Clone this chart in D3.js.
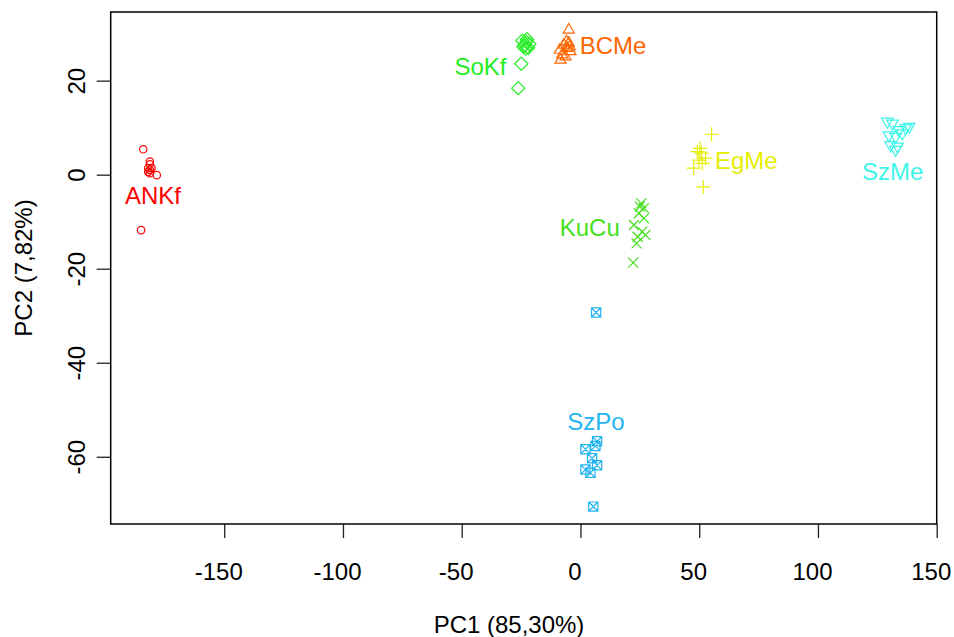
<!DOCTYPE html>
<html>
<head>
<meta charset="utf-8">
<script src="https://cdn.jsdelivr.net/npm/d3@7"></script>
<style>
  body { margin: 0; background: #fff; }
  text { font-family: "Liberation Sans", Arial, sans-serif; }
</style>
</head>
<body>
<div id="chart"></div>
<script>
// PCA scores, one [PC1, PC2] list per group
const groups = ["ANKf", "SoKf", "BCMe", "KuCu", "EgMe", "SzMe", "SzPo"];

const ANKf = [[-184.1, 5.4], [-181.3, 2.8], [-181.3, 2.2], [-182.0, 1.4], [-181.3, 1.0],
  [-180.6, 1.4], [-182.0, 0.6], [-178.4, -0.1], [-181.3, 0.3], [-185.0, -11.8]];
const SoKf = [[-24.5, 28.5], [-23.5, 27.5], [-22.5, 28.8], [-22.0, 27.0], [-23.0, 26.8],
  [-21.5, 27.8], [-24.0, 27.2], [-22.8, 28.2], [-24.9, 23.6], [-26.2, 18.4]];
const BCMe = [[-4.9, 30.8], [-5.9, 28.3], [-7.0, 27.6], [-4.5, 27.2], [-8.7, 26.5],
  [-5.6, 26.9], [-7.7, 25.5], [-4.2, 26.2], [-8.4, 24.4], [-6.3, 25.1], [-4.9, 28.0]];
const KuCu = [[25.6, -6.1], [26.7, -7.1], [24.6, -8.2], [26.7, -9.3], [22.5, -10.7],
  [26.0, -12.1], [27.4, -12.8], [24.1, -13.2], [23.6, -14.6], [22.2, -18.7], [25.0, -6.8]];
const EgMe = [[55.2, 8.6], [50.3, 5.6], [50.9, 4.6], [52.7, 3.5], [49.9, 3.1],
  [51.3, 2.4], [47.7, 1.4], [51.7, -2.6], [49.2, 4.9]];
const SzMe = [[129.2, 11.3], [131.4, 10.9], [137.0, 9.9], [138.4, 10.2], [134.1, 9.5],
  [129.9, 8.4], [132.7, 8.1], [135.5, 8.8], [130.6, 6.3], [133.5, 6.0], [132.7, 5.3]];
const SzPo = [[6.6, -29.3], [7.0, -56.7], [6.3, -57.7], [2.1, -58.4], [4.9, -60.3],
  [7.0, -61.8], [2.1, -62.7], [4.2, -63.4], [5.4, -70.6]];

const scores = [ANKf, SoKf, BCMe, KuCu, EgMe, SzMe, SzPo];

// where each group name sits (PC1, PC2)
const labelPC1 = [-180.0, -42.1, 13.7, 3.9, 69.8, 131.5, 6.5];
const labelPC2 = [-4.4, 23.0, 27.5, -11.1, 3.1, 0.6, -52.5];

const xTicks = [-150, -100, -50, 0, 50, 100, 150];
const yTicks = [-60, -40, -20, 0, 20];

const colors = ["#FF0000", "#22EE22", "#FF6600", "#44E01C", "#E5EE00", "#3CF5E8", "#22B4F0"];
const symbols = ["circle", "diamond", "triUp", "cross", "plus", "triDown", "squareX"];

const width = 954, height = 637;
const plotLeft = 110.7, plotRight = 936.7, plotTop = 12, plotBottom = 524;

const svg = d3.select("#chart").append("svg")
  .attr("width", width)
  .attr("height", height);

const x = d3.scaleLinear().domain([-197.8, 150]).range([plotLeft, plotRight]);
const y = d3.scaleLinear().domain([-74.3, 34.6]).range([plotBottom, plotTop]);

// plain hyphen minus like R draws it
const fmt = d => String(d);

// axes
const xAxis = svg.append("g")
  .attr("transform", `translate(0,${plotBottom})`)
  .call(d3.axisBottom(x).tickValues(xTicks).tickSize(14).tickFormat(fmt));
xAxis.select(".domain").remove();
xAxis.selectAll("line").attr("stroke", "#222").attr("stroke-width", 1.3);
xAxis.selectAll("text")
  .attr("y", 56).attr("dy", 0).attr("dx", -6)
  .attr("fill", "#000")
  .style("font-size", "24px");

const yAxis = svg.append("g")
  .attr("transform", `translate(${plotLeft},0)`)
  .call(d3.axisLeft(y).tickValues(yTicks).tickSize(14).tickFormat(fmt));
yAxis.select(".domain").remove();
yAxis.selectAll("line").attr("stroke", "#222").attr("stroke-width", 1.3);
yAxis.selectAll("text")
  .attr("x", 0).attr("y", -25.7).attr("dy", 0)
  .attr("transform", "rotate(-90)")
  .attr("text-anchor", "middle")
  .attr("fill", "#000")
  .style("font-size", "24px");

// plot box
svg.append("rect")
  .attr("x", plotLeft).attr("y", plotTop)
  .attr("width", plotRight - plotLeft).attr("height", plotBottom - plotTop)
  .attr("fill", "none")
  .attr("stroke", "#000")
  .attr("stroke-width", 1.5);

// axis titles
svg.append("text")
  .attr("x", 509).attr("y", 633)
  .attr("text-anchor", "middle")
  .style("font-size", "24px")
  .text("PC1 (85,30%)");

svg.append("text")
  .attr("transform", `translate(32,${(plotTop + plotBottom) / 2}) rotate(-90)`)
  .attr("text-anchor", "middle")
  .style("font-size", "24px")
  .text("PC2 (7,82%)");

// R-like plotting symbols
const shapePath = {
  diamond: () => { const s = 6.6; return `M0,${-s}L${s},0L0,${s}L${-s},0Z`; },
  triUp: () => { const R = 4.1; return `M0,${-1.555 * R}L${1.347 * R},${0.778 * R}L${-1.347 * R},${0.778 * R}Z`; },
  triDown: () => { const R = 4.3; return `M0,${1.555 * R}L${1.347 * R},${-0.778 * R}L${-1.347 * R},${-0.778 * R}Z`; },
  cross: () => { const s = 5; return `M${-s},${-s}L${s},${s}M${-s},${s}L${s},${-s}`; },
  plus: () => { const s = 7; return `M${-s},0L${s},0M0,${-s}L0,${s}`; },
  squareX: () => { const s = 4.6; return `M${-s},${-s}H${s}V${s}H${-s}Z M${-s},${-s}L${s},${s}M${-s},${s}L${s},${-s}`; }
};

groups.forEach((g, i) => {
  const layer = svg.append("g").attr("class", "grp-" + g);
  const marks = layer.selectAll(".pt")
    .data(scores[i])
    .join(symbols[i] === "circle" ? "circle" : "path")
    .attr("class", "pt")
    .attr("fill", "none")
    .attr("stroke", colors[i])
    .attr("stroke-width", 1.2);
  if (symbols[i] === "circle") {
    marks.attr("cx", d => x(d[0])).attr("cy", d => y(d[1])).attr("r", 3.7);
  } else {
    marks.attr("d", shapePath[symbols[i]]())
      .attr("transform", d => `translate(${x(d[0])},${y(d[1])})`);
  }
});

// group names
svg.append("g").selectAll("text")
  .data(groups)
  .join("text")
  .attr("x", (d, i) => x(labelPC1[i]))
  .attr("y", (d, i) => y(labelPC2[i]))
  .attr("dy", "0.36em")
  .attr("text-anchor", "middle")
  .attr("fill", (d, i) => colors[i])
  .style("font-size", "24px")
  .text(d => d);
</script>
</body>
</html>
